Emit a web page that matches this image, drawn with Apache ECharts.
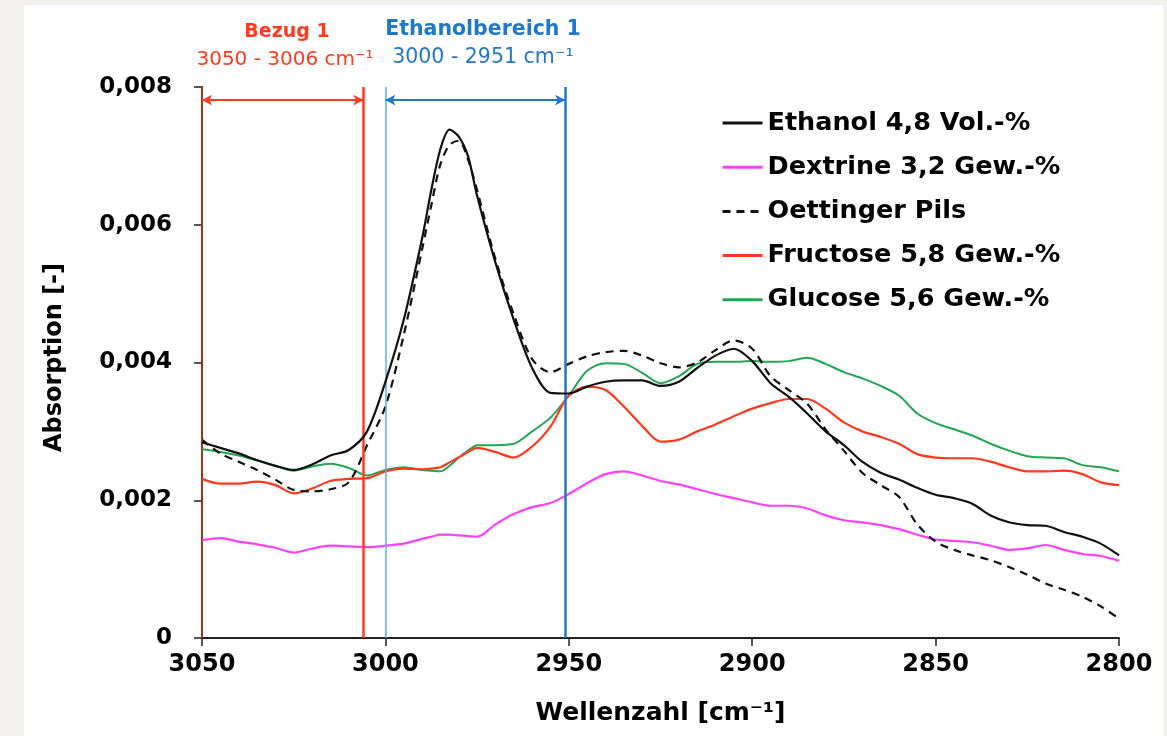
<!DOCTYPE html>
<html>
<head>
<meta charset="utf-8">
<script src="https://cdn.jsdelivr.net/npm/echarts@6/dist/echarts.min.js"></script>
<style>
  html, body { margin: 0; padding: 0; background: #f2f1ed; width: 1167px; height: 736px; overflow: hidden; }
  #chart { position: absolute; left: 24px; top: 5px; width: 1139px; height: 731px; background: #ffffff; }
</style>
</head>
<body>
<div id="chart"></div>
<script>
// Wavenumbers (cm^-1)
const wavenumbers = [3050, 3045, 3040, 3035, 3030, 3025, 3020, 3015, 3010, 3005,
  3000, 2995, 2990, 2987.5, 2985, 2982.5, 2980, 2977.5, 2975, 2970, 2965, 2960, 2955,
  2950, 2945, 2940, 2935, 2930, 2925, 2920, 2915, 2910, 2905,
  2900, 2895, 2890, 2885, 2880, 2875, 2870, 2865, 2860, 2855,
  2850, 2845, 2840, 2835, 2830, 2825, 2820, 2815, 2810, 2805, 2800];

const ethanol = [0.00284, 0.00276, 0.00268, 0.00258, 0.00250, 0.00244, 0.00252, 0.00265, 0.00273, 0.00300,
  0.00372, 0.00462, 0.00580, 0.00650, 0.00710, 0.00738, 0.00728, 0.00700, 0.00642, 0.00545, 0.00462, 0.00392, 0.00356,
  0.00355, 0.00365, 0.00372, 0.00374, 0.00374, 0.00366, 0.00372, 0.00392, 0.00410, 0.00420,
  0.00402, 0.00370, 0.00350, 0.00326, 0.00300, 0.00280, 0.00256, 0.00240, 0.00230, 0.00218,
  0.00208, 0.00203, 0.00195, 0.00178, 0.00168, 0.00164, 0.00163, 0.00154, 0.00147, 0.00137, 0.00120];

const dextrine = [0.00142, 0.00145, 0.00140, 0.00136, 0.00131, 0.00124, 0.00130, 0.00134, 0.00133, 0.00132,
  0.00134, 0.00137, 0.00144, 0.00147, 0.00150, 0.00150, 0.00149, 0.00148, 0.00147, 0.00165, 0.00180, 0.00190, 0.00196,
  0.00209, 0.00225, 0.00238, 0.00242, 0.00236, 0.00228, 0.00223, 0.00216, 0.00209, 0.00203,
  0.00197, 0.00192, 0.00192, 0.00188, 0.00178, 0.00171, 0.00168, 0.00164, 0.00158, 0.00150,
  0.00143, 0.00141, 0.00139, 0.00134, 0.00128, 0.00130, 0.00135, 0.00128, 0.00122, 0.00119, 0.00112];

const oettinger = [0.00288, 0.00268, 0.00256, 0.00244, 0.00230, 0.00215, 0.00213, 0.00216, 0.00226, 0.00280,
  0.00336, 0.00440, 0.00564, 0.00628, 0.00688, 0.00716, 0.00722, 0.00695, 0.00650, 0.00550, 0.00470, 0.00405, 0.00386,
  0.00398, 0.00409, 0.00415, 0.00417, 0.00410, 0.00399, 0.00393, 0.00400, 0.00418, 0.00432,
  0.00420, 0.00380, 0.00360, 0.00340, 0.00303, 0.00272, 0.00240, 0.00222, 0.00205, 0.00165,
  0.00140, 0.00128, 0.00120, 0.00113, 0.00103, 0.00092, 0.00079, 0.00070, 0.00060, 0.00046, 0.00028];

const fructose = [0.00231, 0.00224, 0.00224, 0.00227, 0.00222, 0.00210, 0.00217, 0.00228, 0.00231, 0.00232,
  0.00242, 0.00246, 0.00245, 0.00246, 0.00248, 0.00255, 0.00262, 0.00270, 0.00276, 0.00270, 0.00262, 0.00278, 0.00307,
  0.00352, 0.00365, 0.00360, 0.00336, 0.00308, 0.00285, 0.00288, 0.00300, 0.00310, 0.00322,
  0.00333, 0.00341, 0.00347, 0.00347, 0.00333, 0.00313, 0.00300, 0.00292, 0.00282, 0.00267,
  0.00262, 0.00261, 0.00261, 0.00256, 0.00248, 0.00242, 0.00242, 0.00243, 0.00238, 0.00226, 0.00222];

const glucose = [0.00274, 0.00270, 0.00265, 0.00258, 0.00250, 0.00243, 0.00249, 0.00253, 0.00247, 0.00236,
  0.00244, 0.00248, 0.00244, 0.00243, 0.00242, 0.00250, 0.00262, 0.00272, 0.00280, 0.00280, 0.00282, 0.00300, 0.00320,
  0.00352, 0.00388, 0.00399, 0.00398, 0.00385, 0.00370, 0.00380, 0.00398, 0.00401, 0.00401,
  0.00402, 0.00401, 0.00402, 0.00407, 0.00398, 0.00386, 0.00377, 0.00366, 0.00352, 0.00326,
  0.00312, 0.00303, 0.00294, 0.00282, 0.00272, 0.00264, 0.00262, 0.00261, 0.00251, 0.00248, 0.00242];

const seriesNames = ['Ethanol 4,8 Vol.-%', 'Dextrine 3,2 Gew.-%', 'Oettinger Pils', 'Fructose 5,8 Gew.-%', 'Glucose 5,6 Gew.-%'];

// Evaluation ranges (cm^-1)
const bezugRange = [3050, 3006];
const ethanolRange = [3000, 2951];
const rangeArrowLevel = 0.00781;

const xTicks = [3050, 3000, 2950, 2900, 2850, 2800];

const FONT = 'DejaVu Sans';
const RED = '#ff3b1f';
const BLUE = '#1f78c8';
const LIGHTBLUE = '#5aaee3';

function pairs(arr) { return wavenumbers.map((w, i) => [w, arr[i]]); }

const chart = echarts.init(document.getElementById('chart'), null, { renderer: 'canvas' });

const option = {
  animation: false,
  backgroundColor: '#ffffff',
  grid: { left: 178, right: 44, top: 82, bottom: 98, containLabel: false, outerBoundsMode: 'none' },
  xAxis: {
    type: 'value', inverse: true, min: 2800, max: 3050, interval: 50,
    name: 'Wellenzahl [cm⁻¹]', nameLocation: 'middle', nameGap: 63,
    nameTextStyle: { fontFamily: FONT, fontWeight: 'bold', fontSize: 25, color: '#000' },
    axisLine: { show: true, onZero: false, lineStyle: { color: '#222', width: 2 } },
    axisTick: { show: true, length: 8, lineStyle: { color: '#222', width: 1.5 } },
    axisLabel: { fontFamily: FONT, fontWeight: 'bold', fontSize: 24, color: '#000', margin: 15,
      formatter: v => xTicks.includes(v) ? String(v) : '' },
    splitLine: { show: false }
  },
  yAxis: {
    type: 'value', min: 0, max: 0.008, interval: 0.002,
    name: 'Absorption [-]', nameLocation: 'middle', nameGap: 135, nameRotate: 90,
    nameTextStyle: { fontFamily: FONT, fontWeight: 'bold', fontSize: 24, color: '#000', padding: [0, 0, 0, 10] },
    axisLine: { show: true, onZero: false, lineStyle: { color: '#222', width: 2 } },
    axisTick: { show: true, length: 8, lineStyle: { color: '#222', width: 1.5 } },
    axisLabel: { fontFamily: FONT, fontWeight: 'bold', fontSize: 23, color: '#000', margin: 30,
      formatter: v => v === 0 ? '0' : v.toFixed(3).replace('.', ',') },
    splitLine: { show: false }
  },
  legend: {
    orient: 'vertical', left: 692, top: 100,
    itemWidth: 40, itemHeight: 2, itemGap: 18.2, itemTextGap: 6,
    itemStyle: { opacity: 0 },
    lineStyle: { width: 3 },
    textStyle: { fontFamily: FONT, fontWeight: 'bold', fontSize: 25.5, color: '#000', lineHeight: 25 },
    data: seriesNames
  },
  series: [
    {
      name: 'ranges', type: 'line', data: [], z: 1, silent: true,
      markLine: {
        silent: true, animation: false, symbol: 'none', label: { show: false },
        data: [
          { xAxis: bezugRange[0], lineStyle: { color: RED, width: 2, type: 'solid', opacity: 0.6 } },
          { xAxis: bezugRange[1], lineStyle: { color: RED, width: 2.5, type: 'solid' } },
          { xAxis: ethanolRange[0], lineStyle: { color: LIGHTBLUE, width: 1.5, type: 'solid' } },
          { xAxis: ethanolRange[1], lineStyle: { color: BLUE, width: 2.5, type: 'solid' } },
          [
            { coord: [bezugRange[0], rangeArrowLevel], symbol: 'arrow', symbolSize: [8, 10], lineStyle: { color: RED, width: 2, type: 'solid' } },
            { coord: [bezugRange[1], rangeArrowLevel], symbol: 'arrow', symbolSize: [8, 10] }
          ],
          [
            { coord: [ethanolRange[0], rangeArrowLevel], symbol: 'arrow', symbolSize: [8, 10], lineStyle: { color: BLUE, width: 2, type: 'solid' } },
            { coord: [ethanolRange[1], rangeArrowLevel], symbol: 'arrow', symbolSize: [8, 10] }
          ]
        ]
      }
    },
    { name: seriesNames[4], type: 'line', data: pairs(glucose), smooth: 0.3, showSymbol: false, symbol: 'none', z: 3,
      lineStyle: { color: '#1fa851', width: 2 }, itemStyle: { color: '#1fa851' } },
    { name: seriesNames[3], type: 'line', data: pairs(fructose), smooth: 0.3, showSymbol: false, symbol: 'none', z: 3,
      lineStyle: { color: '#ff3a1c', width: 2.2 }, itemStyle: { color: '#ff3a1c' } },
    { name: seriesNames[1], type: 'line', data: pairs(dextrine), smooth: 0.3, showSymbol: false, symbol: 'none', z: 3,
      lineStyle: { color: '#ff40ff', width: 2.2 }, itemStyle: { color: '#ff40ff' } },
    { name: seriesNames[2], type: 'line', data: pairs(oettinger), smooth: 0.3, showSymbol: false, symbol: 'none', z: 4,
      lineStyle: { color: '#111', width: 2.2, type: [8, 6] }, itemStyle: { color: '#111' } },
    { name: seriesNames[0], type: 'line', data: pairs(ethanol), smooth: 0.3, showSymbol: false, symbol: 'none', z: 5,
      lineStyle: { color: '#111', width: 2.2 }, itemStyle: { color: '#111' } }
  ],
  graphic: [
    { type: 'text', x: 263, y: 27, style: { text: 'Bezug 1', fill: RED, font: 'bold 19px "DejaVu Sans"', align: 'center', verticalAlign: 'middle' } },
    { type: 'text', x: 261, y: 55, style: { text: '3050 - 3006 cm⁻¹', fill: RED, font: '20px "DejaVu Sans"', align: 'center', verticalAlign: 'middle' } },
    { type: 'text', x: 459, y: 25, style: { text: 'Ethanolbereich 1', fill: BLUE, font: 'bold 20.5px "DejaVu Sans"', align: 'center', verticalAlign: 'middle' } },
    { type: 'text', x: 459, y: 53, style: { text: '3000 - 2951 cm⁻¹', fill: BLUE, font: '20.5px "DejaVu Sans"', align: 'center', verticalAlign: 'middle' } }
  ]
};
chart.setOption(option);
</script>
</body>
</html>
